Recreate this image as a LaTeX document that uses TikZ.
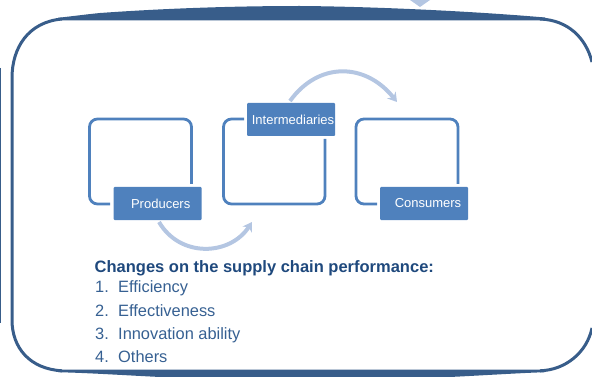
\documentclass[tikz,border=0pt]{standalone}
\usepackage{fontspec}
\setmainfont{Liberation Sans}
\usetikzlibrary{arrows.meta}
\definecolor{frameblue}{HTML}{385D8A}
\definecolor{boxblue}{HTML}{4F81BD}
\definecolor{arcblue}{HTML}{B4C6E2}
\definecolor{headblue}{HTML}{1F497D}
\definecolor{listblue}{HTML}{366092}
\tikzset{
  framefill/.style={fill=frameblue,draw=none},
  frameline/.style={draw=frameblue,line width=3pt},
  openbox/.style={draw=boxblue,line width=2.8pt,rounded corners=8pt},
  labelbox/.style={fill=boxblue,draw=none,rounded corners=1pt,text=white,font=\fontsize{13}{15}\selectfont,minimum width=88pt,minimum height=33pt,inner sep=0pt},
  arcarrow/.style={draw=arcblue,line width=4pt,-{Stealth[length=9pt,width=11pt,inset=3pt]}},
  headtext/.style={anchor=base west,inner sep=0pt,text=headblue,font=\fontsize{16.5}{18}\selectfont\bfseries},
  listtext/.style={anchor=base west,inner sep=0pt,text=listblue,font=\fontsize{16.4}{18}\selectfont},
}
\begin{document}
\begin{tikzpicture}[x=1pt,y=-1pt]
\useasboundingbox (0,0) rectangle (592,377);
\begin{scope}
\clip (0,0) rectangle (592,377);
% frame
\path[framefill] (58,17.8) .. controls (70,16.5) and (85,14.5) .. (100,13) .. controls (170,8) and (240,6) .. (300,6) .. controls (370,6.5) and (470,11) .. (545,17.5) -- (545,20.3) -- (58,20.3) -- cycle;
\path[framefill] (58,369.5) -- (545,369.5) -- (545,372.2) .. controls (520,373) and (490,375) .. (450,377) -- (160,377) .. controls (120,375) and (90,373) .. (58,372.2) -- cycle;
\draw[frameline] (62,19) .. controls (28,22) and (12,48) .. (12,78) -- (12,320) .. controls (12,348) and (30,369) .. (62,370.8);
\draw[frameline] (540,19) .. controls (568,20) and (586,38) .. (592,62);
\draw[frameline] (592,328) .. controls (587,352) and (566,370) .. (540,370.8);
\draw[draw=frameblue,line width=1.6pt] (0,68) -- (0,323);
\path[fill=arcblue] (410,0) -- (430,0) -- (420,7) -- cycle;
\end{scope}
% open boxes
\draw[openbox] (191.5,184) -- (191.5,119) -- (89.5,119) -- (89.5,204) -- (110,204);
\draw[openbox] (244,119) -- (223.5,119) -- (223.5,204) -- (325,204) -- (325,139);
\draw[openbox] (458,184) -- (458,119) -- (356,119) -- (356,204) -- (377,204);
% labels
\node[labelbox] (producers) at (157.5,203.5) {\hspace*{6.4pt}Producers};
\node[labelbox] (intermediaries) at (291,119.5) {\hspace*{4pt}Intermediaries};
\node[labelbox] (consumers) at (424,203.5) {\hspace*{8pt}Consumers};
% arcs
\coordinate (arcAstart) at (159,222);
\coordinate (arcAend) at (252,222);
\coordinate (arcBstart) at (290,101);
\coordinate (arcBend) at (397,102);
\draw[arcarrow] (arcAstart) .. controls (180,258) and (230,256) .. (arcAend);
\draw[arcarrow] (arcBstart) .. controls (318,62) and (365,62) .. (arcBend);
% texts
\node[headtext] (head) at (94.5,272.5) {Changes on the supply chain performance:};
\node[listtext] (n1) at (95,292.5) {1.};
\node[listtext] (t1) at (118,292.5) {Efficiency};
\node[listtext] (n2) at (95,316) {2.};
\node[listtext] (t2) at (118,316) {Effectiveness};
\node[listtext] (n3) at (95,339) {3.};
\node[listtext] (t3) at (118,339) {Innovation ability};
\node[listtext] (n4) at (95,362) {4.};
\node[listtext] (t4) at (118,362) {Others};
\end{tikzpicture}
\end{document}
